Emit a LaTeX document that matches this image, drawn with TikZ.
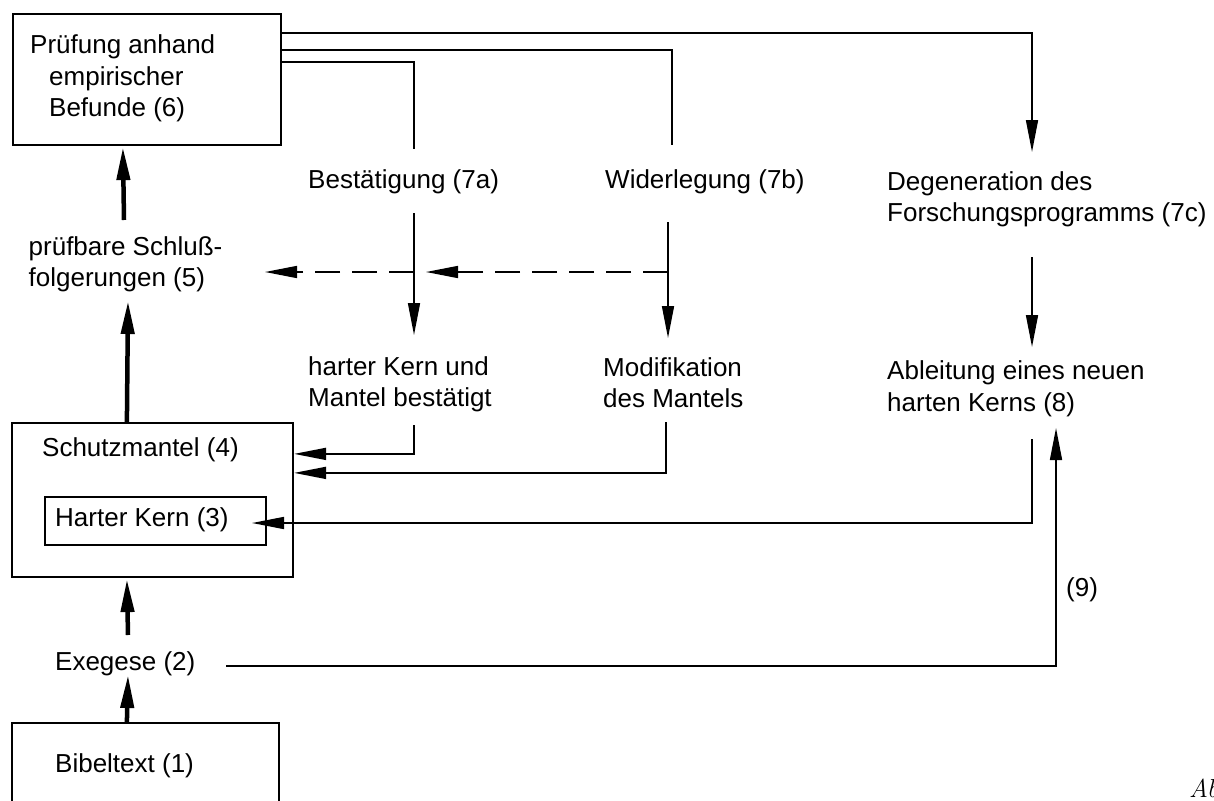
\documentclass[tikz,border=0pt]{standalone}
\usepackage{fontspec}
\newfontfamily\hv{Liberation Sans}
\usetikzlibrary{arrows.meta,calc}
\begin{document}
\begin{tikzpicture}[x=1pt,y=-1pt,
  box/.style={draw, line width=2.2pt, inner sep=0pt},
  txt/.style={font=\hv\fontsize{26}{31.5}\selectfont, inner sep=0pt, align=left, anchor=north west},
  lone/.style={font=\hv\fontsize{26}{31.5}\selectfont, inner sep=0pt, anchor=base west},
  thinline/.style={line width=1.6pt},
  arr/.style={thinline, -{Triangle[length=32pt,width=12pt]}},
  dsh/.style={arr, dash pattern=on 25pt off 12pt},
  fat/.style={line width=4.5pt, -{Triangle[length=33pt,width=13pt]}}]
\useasboundingbox (0,0) rectangle (1214,800);
\clip (0,0) rectangle (1214,800);

% boxes
\node[box, minimum width=268pt, minimum height=131pt] (pruef) at (147,79.5) {};
\node[box, minimum width=281pt, minimum height=154pt] (schutz) at (152.5,500) {};
\node[box, minimum width=221pt, minimum height=48pt] (kern) at (155.5,521) {};
\node[box, minimum width=267pt, minimum height=107pt] (bibel) at (145.5,776.5) {};

% texts
\node[txt] (pruefT) at (30,31.3) {\strut Prüfung anhand\\\hspace*{19pt}\strut empirischer\\\hspace*{19pt}\strut Befunde (6)};
\node[lone] (bestT) at (308,188) {Bestätigung (7a)};
\node[lone] (widT) at (605,188) {Widerlegung (7b)};
\node[txt] (degT) at (887,168) {\strut Degeneration des\\\strut Forschungsprogramms (7c)};
\node[txt] (pruefbarT) at (28.5,233.2) {\strut prüfbare Schluß-\\\strut folgerungen (5)};
\node[txt] (harterT) at (308,353) {\strut harter Kern und\\\strut Mantel bestätigt};
\node[txt] (modT) at (603,354) {\strut Modifikation\\\strut des Mantels};
\node[txt] (ablT) at (887,357.5) {\strut Ableitung eines neuen\\\strut harten Kerns (8)};
\node[lone] (schutzT) at (42,456.7) {Schutzmantel (4)};
\node[lone] (kernT) at (55,526) {Harter Kern (3)};
\node[lone] (exT) at (55,670) {Exegese (2)};
\node[lone] (bibelT) at (55,772.7) {Bibeltext (1)};
\node[lone] (nineT) at (1066,596) {(9)};
\node[font=\itshape\fontsize{26}{31}\selectfont, inner sep=0pt, anchor=base west] (abbT) at (1189,797) {Abb.};

% connector end points
\coordinate (in7c) at (1032,152);
\coordinate (top7b) at (672,145);
\coordinate (top7a) at (414,149);
\coordinate (bot7a) at (414,213);
\coordinate (inHK) at (414,335);
\coordinate (bot7b) at (668,222);
\coordinate (inMod) at (668,338);
\coordinate (j7b) at (668,272);
\coordinate (j7aR) at (426,272);
\coordinate (j7a) at (414,272);
\coordinate (in5) at (265,272);
\coordinate (outHK) at (414,425);
\coordinate (outMod) at (666,422);
\coordinate (out7c) at (1032,257);
\coordinate (in8top) at (1032,347);
\coordinate (out8) at (1032,439);
\coordinate (kernIn) at (252,523);
\coordinate (exOut) at (226,666);
\coordinate (in8) at (1056,428);
\coordinate (in5b) at (128,301);
\coordinate (out5) at (124,220);
\coordinate (exTop) at (128,635);
\coordinate (exBot) at (128,675);

% connectors from test box
\draw[arr] ($(pruef.north east)+(0,20)$) -| (in7c);
\draw[thinline] ($(pruef.north east)+(0,37)$) -| (top7b);
\draw[thinline] ($(pruef.north east)+(0,49)$) -| (top7a);

\draw[arr] (bot7a) -- (inHK);
\draw[arr] (bot7b) -- (inMod);
\draw[dsh] (j7b) -- (j7aR);
\draw[dsh] (j7a) -- (in5);

\draw[arr] (outHK) |- ($(schutz.north east)+(0,32)$);
\draw[arr] (outMod) |- ($(schutz.north east)+(0,51)$);

\draw[arr] (out7c) -- (in8top);
\draw[arr] (out8) |- (kernIn);
\draw[arr] (exOut) -| (in8);

% thick arrows
\draw[fat] (out5) -- ($(pruef.south west)+(111,1)$);
\draw[fat] ($(schutz.north west)+(116,0)$) -- (in5b);
\draw[fat] (exTop) -- ($(schutz.south west)+(116,1)$);
\draw[fat] ($(bibel.north west)+(116,0)$) -- (exBot);
\end{tikzpicture}
\end{document}
